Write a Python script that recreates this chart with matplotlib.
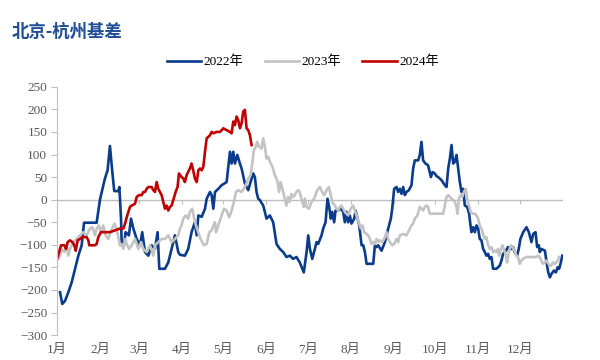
import matplotlib
matplotlib.use("Agg")
import matplotlib.pyplot as plt
from matplotlib.font_manager import FontProperties

# day of year, basis value
days_2022 = [2.2, 3.8, 5.8, 8.2, 10.6, 13, 15.4, 17.8, 19.5, 28.6, 31, 34.6, 36.5, 38.2, 39.9, 41.3, 44.2, 45, 46.2, 46.7,
             48.3, 49.5, 51.9, 53.4, 55.1, 57.5, 59.9, 61.5, 63.5, 65.9, 68.3, 70.7, 72.6, 73.8, 75.5, 77.9, 80.3, 82.7, 85.1, 87.5,
             88.7, 92.3, 94.7, 97.1, 99.5, 100.8, 102, 104.4, 106.8, 108, 110.4, 111.6, 112.8, 114, 116.4, 118.8, 122.4, 124.8, 126, 127.2,
             128.4, 130.1, 132, 133.2, 135.6, 138, 139.7, 141.6, 142.8, 144, 145.2, 146.4, 148.8, 150, 151.2, 153.6, 156, 158.4, 160.8, 163.2,
             165.6, 168, 170.4, 172.8, 175.2, 178.1, 180.1, 181.3, 182.5, 184.2, 186.1, 187.3, 188.5, 190.9, 192.1, 193.8, 195.2, 196.4, 197.6, 198.6,
             200, 201, 202.9, 204.9, 206.5, 207.7, 208.9, 210.1, 211.3, 212.5, 214.5, 215.4, 216.9, 218.1, 219.8, 221, 222.2, 223.4, 225.8, 228.2,
             229.4, 230.6, 231.8, 234.2, 236.6, 239, 240.9, 241.9, 243.3, 245, 246.2, 247.4, 248.6, 249.8, 251, 252.2, 253.9, 255.8, 257, 258.2,
             260.6, 261.8, 263, 264.2, 265.9, 267.8, 269.8, 271, 272.6, 273.9, 275.1, 277.5, 279.9, 281.1, 282.3, 283.5, 284.7, 285.9, 287.1, 288.3,
             289.5, 290.7, 291.9, 293.1, 294.3, 296, 297.4, 298.4, 299.1, 300.3, 301.5, 302.7, 303.9, 305.1, 306.3, 307.5, 308.7, 309.9, 311.1, 312.3,
             313.5, 314.7, 317.1, 319.5, 320.7, 321.9, 323.9, 325.5, 326.7, 327.9, 329.1, 330.3, 332, 333.2, 334.4, 336.4, 338.8, 340.5, 342.4, 343.6,
             345.3, 346.5, 347.7, 348.4, 349.6, 352.1, 353.3, 354.5, 355.7, 356.9, 358.6, 360, 361.2, 362.4, 363.6, 364.6]
vals_2022 = [-205, -231, -224, -205, -183, -153, -124, -101, -51, -51, 0, 47, 65, 119, 62, 19, 19, 28, -42, -101,
             -101, -72, -79, -42, -64, -87, -101, -72, -116, -124, -101, -109, -72, -153, -153, -153, -139, -109, -79, -116,
             -122, -124, -109, -72, -50, -79, -35, -38, -20, 2, 17, 10, -20, 17, 24, 32, 39, 106, 80, 106,
             80, 99, 80, 69, 36, 21, 39, 58, 50, 17, 2, -1, -13, -27, -42, -35, -50, -98, -109, -116,
             -127, -124, -131, -127, -139, -161, -116, -79, -109, -131, -109, -94, -98, -79, -64, -50, 2, -16, -42, -27,
             -50, -24, -24, -20, -27, -50, -27, -50, -35, -53, -42, -24, -42, -57, -101, -101, -116, -142, -142, -142,
             -101, -105, -101, -113, -94, -64, -42, -20, 24, 28, 17, 24, 13, 28, 10, 17, 21, 32, 69, 87,
             87, 99, 128, 87, 80, 76, 50, 61, 58, 52, 50, 43, 32, 28, 69, 91, 121, 80, 84, 99,
             69, 39, 17, 24, -13, -16, -31, -57, -72, -61, -72, -57, -64, -87, -90, -109, -116, -124, -120, -131,
             -127, -153, -153, -146, -135, -120, -113, -105, -109, -109, -105, -116, -124, -109, -87, -72, -61, -72, -94, -76,
             -72, -105, -101, -116, -109, -113, -139, -161, -172, -164, -157, -161, -150, -153, -139, -124]

days_2023 = [1, 2.2, 3.4, 5.3, 7, 8.2, 9.4, 11.8, 14.2, 16.6, 19, 21.4, 23.8, 25.5, 27.4, 28.6, 30.3, 31.7, 33.4, 35.1,
             37, 38.2, 39.9, 41.4, 43, 45.4, 46.6, 47.9, 49.1, 50.3, 52, 53.9, 56.3, 58.7, 60.6, 62.3, 64.7, 67.1, 69.5, 70.7,
             73.1, 75.5, 77.9, 80.3, 82.7, 85.1, 87.5, 88.7, 89.9, 91.1, 93, 94.7, 95.9, 97.6, 98.8, 100.3, 101.9, 103.6, 106, 108,
             109.9, 111.6, 112.8, 114, 114.7, 115.7, 117.1, 118.8, 120.5, 122.4, 124.3, 126, 127.7, 129.1, 130.8, 133.2, 135.6, 136.8, 138, 139.7,
             141.1, 142.1, 143.5, 144.5, 145.9, 147.6, 148.8, 150, 151.2, 152.4, 153.6, 155.5, 157.2, 158.9, 160.3, 161.3, 162.7, 164.4, 165.6, 166.8,
             168, 169.2, 170.4, 171.6, 172.8, 174, 175.2, 176.4, 178.1, 178.9, 180.1, 181.8, 183.7, 185.6, 187.3, 188.5, 189.7, 191.4, 192.8, 194.5,
             196.2, 197.6, 198.6, 200.5, 201.7, 202.9, 204.1, 205.3, 206.5, 207.7, 208.9, 210.1, 212, 213.7, 214.9, 216.1, 217.8, 219.3, 220.5, 221.6,
             223.4, 224.6, 225.8, 227, 228.2, 229.4, 230.6, 231.8, 233, 234.7, 236.1, 237.8, 239, 240.2, 241.9, 243.3, 245, 246.2, 247.4, 249.8,
             252.2, 254.6, 255.8, 257, 258.2, 260.1, 261.8, 263, 264.2, 265.4, 266.6, 267.8, 269, 270.7, 272.6, 273.9, 276.3, 278.7, 279.9, 281.1,
             282.3, 283.5, 284.7, 285.9, 287.1, 288.3, 289, 290, 291.2, 292.4, 293.6, 295, 296, 296.7, 297.4, 298.4, 299.8, 301.5, 302.7, 303.9,
             305.1, 306.3, 307.5, 308.7, 309.9, 311.1, 312.3, 313.5, 314.7, 315.9, 317.1, 318.3, 319, 320, 321.4, 322.4, 323.9, 324.8, 326, 327.5,
             328.6, 330.3, 331.5, 332.7, 333.9, 335.1, 336.3, 338.7, 341.1, 343.5, 345.9, 347.1, 348.3, 349.5, 350.7, 351.9, 353.1, 355.5, 356.7, 357.9,
             359.1, 360.3, 361.5, 362.2]
vals_2023 = [-131, -124, -109, -116, -101, -124, -109, -94, -87, -79, -72, -79, -64, -61, -79, -64, -57, -72, -57, -79,
             -87, -76, -64, -53, -64, -101, -98, -109, -87, -98, -109, -101, -87, -109, -94, -109, -116, -101, -124, -101,
             -94, -87, -87, -79, -94, -87, -79, -64, -57, -42, -35, -42, -27, -20, -39, -57, -72, -87, -101, -98,
             -72, -68, -57, -50, -72, -64, -50, -35, -20, -24, -39, -24, -5, 17, 21, 17, 28, 36, 47, 54,
             84, 110, 117, 128, 117, 113, 136, 117, 91, 95, 84, 73, 54, 43, 17, 39, 24, 2, -13, 6,
             -5, 13, 6, 10, 17, 21, 17, 2, -16, 2, -16, -20, -5, 2, 17, 24, 28, 17, 10, 21,
             28, 10, -5, -13, -20, -24, -16, -13, -20, -27, -31, -35, -20, -13, -24, -35, -50, -64, -57, -72,
             -76, -79, -87, -98, -94, -98, -87, -94, -90, -94, -87, -72, -87, -94, -101, -98, -87, -94, -79, -76,
             -79, -64, -57, -53, -42, -35, -16, -20, -24, -16, -13, -16, -31, -31, -31, -31, -31, -31, -13, 6,
             10, 6, 2, -1, -5, -16, -31, 2, 10, 6, 17, 24, 2, -9, -13, -27, -31, -31, -35, -42,
             -57, -64, -76, -87, -83, -101, -109, -105, -116, -113, -116, -109, -124, -113, -101, -109, -124, -139, -116, -101,
             -105, -113, -124, -127, -142, -135, -131, -127, -127, -127, -127, -124, -127, -135, -142, -139, -135, -146, -146, -139,
             -142, -139, -135, -127]

days_2024 = [0, 1.5, 2.9, 5.3, 6.5, 7.7, 9.4, 11.1, 12.5, 13.5, 14.9, 16.6, 18.3, 20.2, 21.4, 22.6, 23.3, 25.5, 27.4, 28.6,
             29.8, 31.7, 34.6, 38.2, 41.8, 45.4, 47.9, 49.1, 50.3, 51.5, 52.7, 53.9, 56.3, 57.5, 59.1, 61.1, 62.3, 63.5, 64.7, 65.9,
             68.3, 69.5, 70.7, 71.9, 73.1, 74.3, 75.5, 76.7, 77.9, 79.1, 80.3, 81.5, 82.7, 83.9, 85.6, 87, 88, 89.9, 91.1, 92.3,
             93.5, 94.7, 95.9, 97.1, 98.3, 99.5, 100.8, 102, 103.2, 104.4, 105.6, 106.8, 108, 109.2, 110.4, 111.6, 112.8, 115.2, 117.6, 118.8,
             120, 122.4, 124.8, 126, 127.2, 128.4, 129.6, 130.8, 132, 133.2, 134.4, 135.6, 136.8, 138, 139.2, 140.4]
vals_2024 = [-131, -116, -101, -101, -109, -94, -90, -94, -101, -113, -90, -87, -83, -83, -83, -90, -101, -101, -101, -98,
             -83, -72, -72, -72, -68, -64, -64, -53, -39, -27, -16, -13, -9, 6, 10, 10, 17, 17, 24, 28,
             28, 21, 17, 39, 24, 17, 10, -5, -20, -13, -24, -16, -13, -1, 17, 28, 58, 50, 47, 39,
             54, 62, 69, 80, 65, 47, 39, 65, 69, 65, 73, 106, 136, 139, 143, 150, 147, 150, 150, 154,
             158, 154, 150, 147, 173, 165, 184, 176, 158, 169, 195, 199, 158, 154, 143, 121]

month_starts = [0, 31, 59, 90, 120, 151, 181, 212, 243, 273, 304, 334]
month_labels = ["1月", "2月", "3月", "4月", "5月", "6月", "7月", "8月", "9月", "10月", "11月", "12月"]
yticks = list(range(-300, 251, 50))

serif_cjk = ["Liberation Serif", "Noto Sans CJK SC"]
grey_txt = "#595959"
axis_grey = "#BFBFBF"

fig = plt.figure(figsize=(6, 3.6), dpi=100)
ax = fig.add_axes([0.095, 0.069, 0.843, 0.690])

# zero line with small month ticks hanging below it
ax.axhline(0, color=axis_grey, lw=1.0, zorder=1)
ax.vlines(month_starts, -9, 0, color=axis_grey, lw=0.8, zorder=1)

ax.plot(days_2022, vals_2022, color="#0B3C8C", lw=1.9, label="2022年", zorder=2)
ax.plot(days_2023, vals_2023, color="#C3C3C3", lw=1.9, label="2023年", zorder=2)
ax.plot(days_2024, vals_2024, color="#C00000", lw=1.9, label="2024年", zorder=2)

ax.set_xlim(0, 365)
ax.set_ylim(-300, 250)
ax.set_yticks(yticks)
ax.set_xticks(month_starts)
ax.set_xticklabels(month_labels)

for s in ["top", "right", "bottom"]:
    ax.spines[s].set_visible(False)
ax.spines["left"].set_color(axis_grey)
ax.tick_params(axis="y", colors=axis_grey, length=4, width=0.8, pad=3)
ax.tick_params(axis="x", length=0, pad=6)
for lab in ax.get_yticklabels() + ax.get_xticklabels():
    lab.set_family(serif_cjk)
    lab.set_color(grey_txt)
    lab.set_fontsize(9.5)

fig.text(0.02, 0.912, "北京-杭州基差", color="#1F4E96", fontsize=12.5, fontweight="bold",
         family=["Noto Sans CJK SC"], va="center", ha="left")

leg_font = FontProperties(family=serif_cjk, size=9.5)
fig.legend(loc="center", bbox_to_anchor=(0.505, 0.828), ncol=3, frameon=False, prop=leg_font,
           handlelength=2.6, columnspacing=1.6, handletextpad=0.2)

fig.savefig("out.png", dpi=100)
